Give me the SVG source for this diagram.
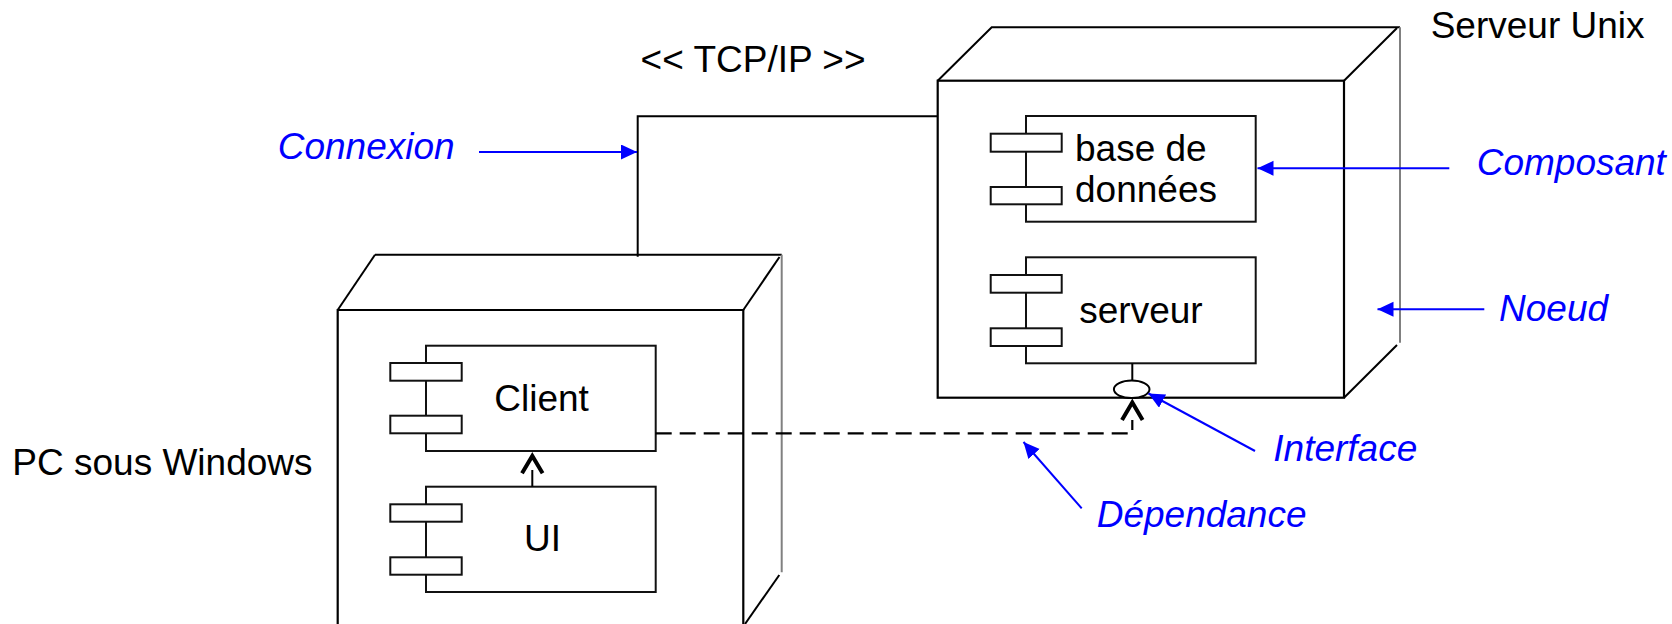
<svg xmlns="http://www.w3.org/2000/svg" width="1672" height="624" viewBox="0 0 1672 624">
<style>
.t{font-family:"Liberation Sans",Arial,sans-serif;font-size:37px;fill:#000}
.lb{font-family:"Liberation Sans",Arial,sans-serif;font-size:37px;font-style:italic;fill:#0000ff}
.face{fill:#fff;stroke:#000;stroke-width:2.2;stroke-linejoin:miter}
.edge{fill:none;stroke:#000;stroke-width:2}
.back{fill:none;stroke:#808080;stroke-width:2}
.comp{fill:#fff;stroke:#111;stroke-width:2}
.conn{fill:none;stroke:#000;stroke-width:2}
.dash{fill:none;stroke:#000;stroke-width:2.2;stroke-dasharray:16 8}
.chev{fill:none;stroke:#000;stroke-width:4;stroke-linejoin:miter}
.ann{fill:none;stroke:#0000ff;stroke-width:2}
</style>
<defs>
<marker id="ba" markerUnits="userSpaceOnUse" markerWidth="18" markerHeight="16" refX="16" refY="7.5" orient="auto">
<path d="M0,0 L16,7.5 L0,15 z" fill="#0000ff"/>
</marker>
</defs>
<rect width="1672" height="624" fill="#fff"/>

<g id="node-pc">
<path class="edge" d="M337.7,310 L375,254.7"/>
<path class="edge" d="M375,254.7 H781.7" stroke="#333" stroke-width="1.6"/>
<path class="edge" d="M743.3,310 L779.5,257"/>
<path class="back" d="M781.7,254.7 V572.3"/>
<path class="edge" d="M779.3,575 L745,624"/>
<path class="face" d="M337.7,630 V310 H743.3 V630"/>
<text class="t" x="12.3" y="475">PC sous Windows</text>
</g>

<g id="comp-client">
<rect class="comp" x="426" y="345.7" width="229.7" height="105.3"/>
<rect class="comp" x="390.3" y="363" width="71.4" height="17.7"/>
<rect class="comp" x="390.3" y="415.7" width="71.4" height="17.6"/>
<text class="t" x="494.3" y="411">Client</text>
</g>

<g id="comp-ui">
<rect class="comp" x="426" y="486.7" width="229.7" height="105.3"/>
<rect class="comp" x="390.3" y="504.3" width="71.4" height="17.4"/>
<rect class="comp" x="390.3" y="557.3" width="71.4" height="17.4"/>
<text class="t" x="524" y="551">UI</text>
</g>

<g id="node-server">
<path class="edge" d="M937.7,80.7 L991.7,27.3 H1400" stroke-width="1.8"/>
<path class="edge" d="M1344,80.7 L1397,28"/>
<path class="back" d="M1400,27.3 V342.7"/>
<path class="edge" d="M1344,397.7 L1397,345"/>
<rect class="face" x="937.7" y="80.7" width="406.3" height="317"/>
<text class="t" x="1430.7" y="38.3">Serveur Unix</text>
</g>

<g id="comp-db">
<rect class="comp" x="1026" y="116" width="229.7" height="105.7"/>
<rect class="comp" x="990.7" y="133.7" width="71" height="18"/>
<rect class="comp" x="990.7" y="187" width="71" height="17.3"/>
<text class="t" x="1075" y="160.7">base de</text>
<text class="t" x="1075" y="201.7">données</text>
</g>

<g id="comp-serveur">
<rect class="comp" x="1026" y="257.3" width="229.7" height="106"/>
<rect class="comp" x="990.7" y="275" width="71" height="17.7"/>
<rect class="comp" x="990.7" y="328.3" width="71" height="17.7"/>
<text class="t" x="1079.3" y="322.7">serveur</text>
</g>

<g id="interface">
<path class="conn" d="M1132.3,363.3 V380.7"/>
<ellipse cx="1131.7" cy="389.3" rx="17.8" ry="8.8" fill="#fff" stroke="#000" stroke-width="2"/>
</g>

<g id="connectors">
<path class="conn" d="M637.7,256.7 V116.3 H937.7"/>
<text class="t" x="640.6" y="71.7">&lt;&lt; TCP/IP &gt;&gt;</text>
<path class="conn" d="M532.3,486.7 V470"/>
<path class="chev" d="M522,473.3 L532.3,456 L542.6,473.3"/>
<path class="dash" d="M655.7,433.3 H1132.3 V420"/>
<path class="chev" d="M1122,420 L1132.3,402.5 L1142.6,420"/>
</g>

<g id="annotations">
<path class="ann" d="M479,152 H637" marker-end="url(#ba)"/>
<text class="lb" x="277.7" y="159.3">Connexion</text>
<path class="ann" d="M1449.3,168.3 H1257.5" marker-end="url(#ba)"/>
<text class="lb" x="1476.7" y="175">Composant</text>
<path class="ann" d="M1484.3,309.3 H1377.5" marker-end="url(#ba)"/>
<text class="lb" x="1499" y="320.7">Noeud</text>
<path class="ann" d="M1255,451 L1148.5,393.5" marker-end="url(#ba)"/>
<text class="lb" x="1273.3" y="460.7">Interface</text>
<path class="ann" d="M1081.7,508.3 L1023.5,442" marker-end="url(#ba)"/>
<text class="lb" x="1096.7" y="526.7">Dépendance</text>
</g>
</svg>
